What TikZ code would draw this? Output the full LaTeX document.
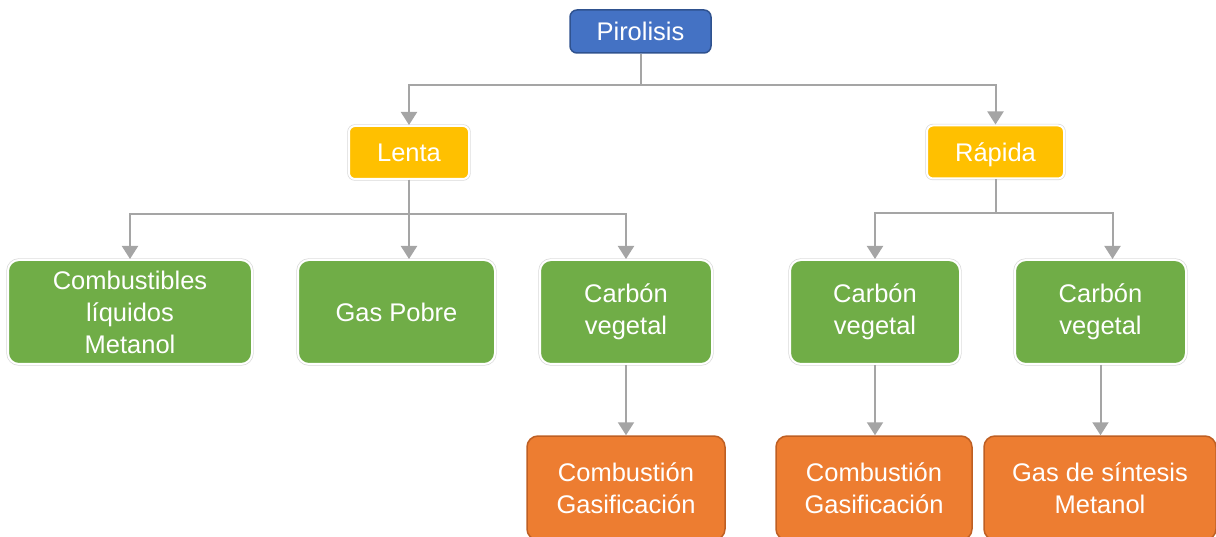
\documentclass[tikz,border=0pt]{standalone}
\usepackage{fontspec}
\setmainfont{Liberation Sans}
\usetikzlibrary{arrows.meta}
\definecolor{azul}{RGB}{68,114,196}
\definecolor{azulosc}{RGB}{47,82,143}
\definecolor{amarillo}{RGB}{255,192,0}
\definecolor{verde}{RGB}{112,173,71}
\definecolor{naranja}{RGB}{237,125,49}
\definecolor{naranjaosc}{RGB}{190,95,35}
\definecolor{gris}{RGB}{165,165,165}
\tikzset{
  caja/.style     = {shape=rectangle, align=center, text=white, inner sep=0pt,
                     font=\fontsize{25.5}{32}\selectfont},
  blanco/.style   = {draw=white, line width=2pt,
                     preaction={draw=black!15, line width=3.4pt}},
  raiz/.style     = {caja, fill=azul, draw=azulosc, line width=1.5pt,
                     rounded corners=7pt, minimum height=43pt},
  tipo/.style     = {caja, blanco, fill=amarillo, rounded corners=6pt,
                     minimum height=53pt, text height=18.3pt, text depth=0pt},
  producto/.style = {caja, blanco, fill=verde, rounded corners=11pt,
                     minimum height=104pt},
  uso/.style      = {caja, fill=naranja, draw=naranjaosc, line width=1.5pt,
                     rounded corners=11pt, minimum height=104pt},
  enlace/.style   = {draw=gris, line width=2pt,
                     -{Triangle[width=16pt,length=13pt]}},
}

\begin{document}
\begin{tikzpicture}
  [
    x = 1pt,
    y = -1pt
  ]
  \path[use as bounding box, clip] (0,0) rectangle (1216,537);

  \node [raiz, minimum width=141pt] (piro) at (640.5,31.5) {Pirolisis};

  \node [tipo, minimum width=120pt] (lenta)  at (409,152.5) {Lenta};
  \node [tipo, minimum width=137pt] (rapida) at (995.5,152) {Rápida};

  \node [producto, minimum width=244pt] (comb)   at (130,312)   {Combustibles\\líquidos\\Metanol};
  \node [producto, minimum width=197pt] (gas)    at (396.5,312) {Gas Pobre};
  \node [producto, minimum width=172pt] (carbA)  at (626,312)   {Carbón\\vegetal};
  \node [producto, minimum width=170pt] (carbB)  at (875,312)   {Carbón\\vegetal};
  \node [producto, minimum width=171pt] (carbC)  at (1100.5,312) {Carbón\\vegetal};

  \node [uso, minimum width=198pt] (usoA) at (626,488)  {Combustión\\Gasificación};
  \node [uso, minimum width=196pt] (usoB) at (874,488)  {Combustión\\Gasificación};
  \node [uso, minimum width=232pt] (usoC) at (1100,488) {Gas de síntesis\\Metanol};

  \draw [enlace] (piro.south) -- ++(0,31) -| (lenta.north);
  \draw [enlace] (piro.south) -- ++(0,31) -| (rapida.north);

  \draw [enlace] (lenta.south) -- ++(0,34) -| (comb.north);
  \draw [enlace] (lenta.south) -- (lenta.south |- gas.north);
  \draw [enlace] (lenta.south) -- ++(0,34) -| (carbA.north);

  \draw [enlace] (rapida.south) -- ++(0,34) -| (carbB.north);
  \draw [enlace] (rapida.south) -- ++(0,34) -| ([xshift=12pt]carbC.north);

  \draw [enlace] (carbA.south) -- (usoA.north);
  \draw [enlace] (carbB.south) -- (carbB.south |- usoB.north);
  \draw [enlace] (carbC.south) -- (carbC.south |- usoC.north);
\end{tikzpicture}
\end{document}
